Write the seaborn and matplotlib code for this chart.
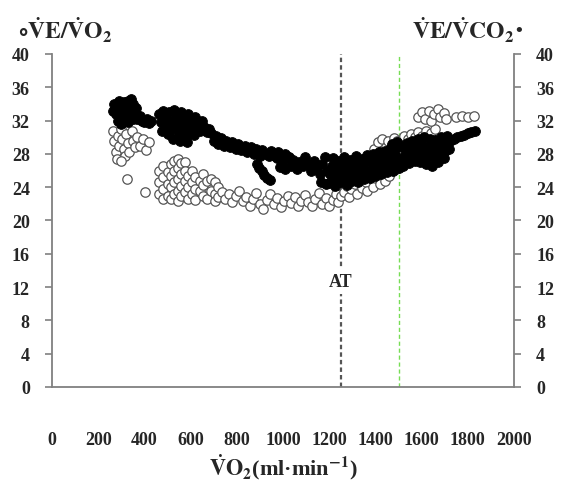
import numpy as np
import pandas as pd
import matplotlib
matplotlib.use('Agg')
import matplotlib.pyplot as plt
import seaborn as sns

sns.set_style('white')
plt.rcParams['font.family'] = ['Liberation Serif', 'DejaVu Serif']
plt.rcParams['font.weight'] = 'bold'
plt.rcParams['mathtext.fontset'] = 'stix'

# VE/VO2 (open circles)
vo2_open = [265, 270, 275, 280, 285, 290, 300, 305, 310, 315, 320, 330, 335, 345, 350,
            360, 370, 380, 395, 405, 420, 300, 325, 403,
            465, 465, 465, 480, 480, 480, 480, 500, 500, 500, 515, 515, 515, 515,
            530, 530, 530, 530, 545, 545, 545, 545, 545, 560, 560, 560, 560,
            575, 575, 575, 575, 590, 590, 590, 605, 605, 605, 620, 620, 620,
            640, 640, 655, 655, 655, 670, 670, 690, 690, 705, 705, 705, 720, 720, 735,
            750, 765, 780, 795, 810, 825, 840, 855, 870, 885, 900, 915, 930, 945, 960,
            975, 990, 1005, 1020, 1035, 1050, 1065, 1080, 1095, 1110, 1125, 1140, 1155,
            1170, 1185, 1200, 1215, 1230, 1240, 1250,
            1265, 1275, 1285, 1295, 1300, 1310, 1320, 1325, 1335, 1340, 1345, 1355, 1360,
            1365, 1370, 1380, 1385, 1390, 1395, 1400, 1410, 1415, 1420, 1425, 1430, 1440,
            1445, 1455, 1460, 1470, 1480, 1490, 1495,
            1510, 1525, 1540, 1555, 1570, 1585, 1600, 1620, 1640, 1660,
            1585, 1600, 1615, 1630, 1640, 1655, 1670, 1680, 1695, 1705,
            1750, 1775, 1800, 1825]
ve_vo2 = [30.8, 29.5, 28.2, 27.4, 30.2, 29.0, 31.0, 29.8, 28.6, 27.7, 30.4, 29.3, 28.2, 30.8, 29.6,
          28.8, 30.0, 29.0, 29.8, 28.5, 29.4, 27.2, 25.0, 23.4,
          26.0, 24.6, 23.2, 26.6, 25.2, 23.8, 22.6, 25.8, 24.4, 23.0, 26.8, 25.4, 24.0, 22.6,
          27.2, 26.0, 24.6, 23.2, 27.4, 26.3, 25.0, 23.6, 22.4, 26.9, 25.6, 24.2, 22.9,
          27.0, 26.0, 24.8, 23.4, 25.4, 24.0, 22.6, 26.0, 24.6, 23.2, 25.2, 23.8, 22.5,
          24.8, 23.6, 25.6, 24.3, 23.0, 24.8, 22.6, 25.0, 23.6, 24.6, 23.2, 22.4, 24.0, 22.8, 23.4,
          22.6, 23.2, 22.2, 22.9, 23.5, 22.3, 22.8, 21.8, 22.6, 23.3, 22.0, 21.4, 22.5, 23.2, 22.0,
          22.7, 21.6, 22.3, 23.0, 22.1, 22.8, 21.7, 22.4, 23.1, 22.2, 21.7, 22.6, 23.3,
          22.0, 22.7, 21.8, 22.5, 23.2, 22.2, 23.0,
          23.4, 24.2, 22.8, 23.8, 25.0, 24.4, 23.2, 26.0, 25.2, 23.9, 27.0, 26.2, 24.6,
          23.6, 27.8, 26.8, 25.0, 24.0, 28.6, 27.4, 29.4, 25.6, 24.4, 28.2, 29.8, 24.8,
          28.8, 29.6, 25.4, 29.0, 29.9, 26.2, 29.5,
          29.6, 30.2, 29.8, 30.4, 30.0, 30.6, 30.2, 30.8, 30.5, 31.0,
          32.4, 33.0, 32.2, 33.2, 32.0, 32.8, 33.4, 32.4, 32.9, 32.2,
          32.4, 32.5, 32.4, 32.5]

# VE/VCO2 (filled circles)
vo2_fill = [270, 280, 275, 290, 295, 300, 305, 310, 315, 320, 325, 330, 335, 340, 345,
            350, 355, 360, 365, 285, 300, 330, 370, 380, 390, 400, 410, 420, 430, 265,
            340, 315, 350,
            465, 470, 475, 480, 490, 495, 500, 505, 515, 520, 525, 530, 540, 545, 550,
            555, 560, 570, 575, 580, 585, 590, 600, 610, 615, 620, 630, 640, 650, 660,
            670, 680,
            690, 700, 710, 720, 730, 745, 755, 770, 780, 795, 805, 820, 835, 845, 860,
            875, 885, 900, 910, 925, 940, 950, 965, 980, 995, 1010, 1025,
            888, 898, 908, 918, 930, 942,
            975, 985, 1000, 1010, 1020, 1035, 1045, 1060, 1070, 1085, 1095, 1110, 1120,
            1135, 1145, 1160, 1170, 1180, 1190, 1165, 1185,
            1200, 1205, 1210, 1215, 1225, 1230, 1235, 1240, 1250, 1255, 1260, 1265,
            1275, 1280, 1285, 1290, 1300, 1305, 1310, 1315, 1325, 1330, 1335, 1340,
            1350, 1355, 1360, 1365, 1375, 1380, 1385, 1390, 1400, 1405, 1410, 1415,
            1425, 1430, 1435, 1440, 1450, 1455, 1460, 1465, 1475, 1480, 1485, 1490,
            1500, 1505, 1470, 1495, 1510,
            1520, 1525, 1530, 1535, 1545, 1550, 1555, 1560, 1570, 1575, 1580, 1585,
            1595, 1600, 1605, 1610, 1620, 1625, 1630, 1635, 1645, 1650, 1655, 1660,
            1670, 1675, 1680, 1685, 1695, 1700, 1705, 1710, 1720, 1725,
            1740, 1755, 1770, 1785, 1800, 1815, 1830]
ve_vco2 = [34.0, 33.5, 32.8, 34.3, 33.0, 32.3, 33.8, 34.2, 33.2, 32.6, 33.9, 34.4, 33.4, 32.5, 33.8,
           34.0, 33.0, 32.4, 33.5, 32.0, 31.6, 31.8, 32.2, 32.6, 32.0, 31.8, 32.2, 31.7, 32.0, 33.2,
           34.6, 31.9, 32.2,
           32.8, 31.8, 30.8, 33.2, 32.3, 31.2, 30.4, 33.0, 32.0, 31.0, 29.8, 33.3, 32.5, 31.5, 30.5,
           29.5, 33.0, 32.0, 31.0, 30.2, 29.4, 32.8, 31.8, 31.0, 30.3, 32.4, 31.6, 30.8, 32.0, 31.2,
           30.6, 31.0,
           30.5, 29.6, 30.2, 29.2, 29.9, 29.0, 29.6, 28.8, 29.4, 28.6, 29.2, 28.5, 29.0, 28.2, 28.8,
           28.0, 28.6, 27.8, 28.5, 28.0, 27.7, 28.4, 27.8, 28.2, 27.6, 28.0, 27.6,
           26.8, 26.3, 25.9, 25.5, 25.1, 24.9,
           27.5, 26.4, 27.2, 26.2, 27.6, 26.6, 27.3, 26.2, 27.0, 26.5, 27.6, 26.8, 26.0,
           27.2, 26.3, 25.6, 26.8, 27.6, 25.9, 24.6, 24.4,
           24.5, 25.6, 26.6, 27.5, 24.2, 25.2, 26.2, 27.2, 24.6, 25.6, 26.6, 27.6,
           24.3, 25.3, 26.3, 27.3, 24.8, 25.8, 26.8, 27.8, 24.6, 25.5, 26.5, 27.4,
           25.0, 26.0, 27.0, 27.9, 25.1, 26.1, 27.1, 28.0, 25.4, 26.4, 27.3, 28.2,
           25.6, 26.5, 27.5, 28.4, 25.8, 26.8, 27.8, 28.6, 26.0, 27.0, 28.0, 28.8,
           26.3, 27.3, 29.2, 29.4, 29.0,
           26.6, 27.6, 28.5, 29.3, 26.9, 27.9, 28.8, 29.6, 27.1, 28.1, 29.0, 29.8,
           27.0, 28.0, 29.0, 30.0, 26.8, 27.8, 28.8, 29.8, 26.6, 27.6, 28.6, 29.7,
           27.0, 28.0, 29.0, 30.0, 27.5, 28.4, 29.3, 30.2, 28.6, 29.6,
           29.8, 30.0, 30.2, 30.3, 30.5, 30.6, 30.8]

x_ticks = list(range(0, 2001, 200))
y_ticks = list(range(0, 41, 4))
at_vo2 = 1250
green_vo2 = 1500

df_open = pd.DataFrame({'vo2': vo2_open, 've': ve_vo2})
df_fill = pd.DataFrame({'vo2': vo2_fill, 've': ve_vco2})

fig = plt.figure(figsize=(5.62, 4.85), dpi=100)
ax = fig.add_axes([52 / 562, 1 - 388 / 485, 462 / 562, 333 / 485])

sns.scatterplot(data=df_open, x='vo2', y='ve', ax=ax, marker='o', s=46,
                facecolor='white', edgecolor='#555555', linewidth=0.9, zorder=3)
sns.scatterplot(data=df_fill, x='vo2', y='ve', ax=ax, marker='o', s=50,
                color='black', edgecolor='black', linewidth=0.6, zorder=4)

ax.axvline(at_vo2, color='#555555', lw=1.6, ls=(0, (2, 1.4)), zorder=2)
ax.axvline(green_vo2, color='#77dd55', lw=1.0, ls=(0, (3, 2)), zorder=2)
ax.text(at_vo2, 12.7, 'AT', ha='center', va='center', fontsize=13, fontweight='bold',
        bbox=dict(facecolor='white', edgecolor='none', pad=3), zorder=5)

ax.set_xlim(0, 2000)
ax.set_ylim(0, 40)
ax.set_xticks(x_ticks)
ax.set_yticks(y_ticks)
ax.set_xlabel('$\\mathbf{\\dot{V}O_2}$(ml\u00b7min$^{\\mathbf{-1}}$)', fontsize=16,
              fontweight='bold', labelpad=2)
ax.set_ylabel('')

for s in ['left', 'right', 'bottom']:
    ax.spines[s].set_color('#808080')
    ax.spines[s].set_linewidth(1.3)
ax.spines['top'].set_visible(False)

ax.tick_params(axis='x', direction='out', length=4, width=1.2, color='#808080',
               pad=28, labelsize=13)
ax.tick_params(axis='y', direction='out', length=5, width=1.2, color='#808080',
               pad=11, labelsize=13, left=True)

ax2 = ax.twinx()
ax2.set_ylim(0, 40)
ax2.set_yticks(y_ticks)
for s in ['left', 'right', 'bottom', 'top']:
    ax2.spines[s].set_visible(False)
ax2.tick_params(axis='y', direction='out', length=5, width=1.2, color='#808080',
                pad=11, labelsize=13, right=True)

for lab in ax.get_xticklabels() + ax.get_yticklabels() + ax2.get_yticklabels():
    lab.set_fontweight('bold')

# series titles above the two y axes
fig.text(18 / 562, 1 - 30 / 485, r'$\circ\mathbf{\dot{V}E/\dot{V}O_2}$', fontsize=17,
         ha='left', va='center')
fig.text(514 / 562, 1 - 30 / 485, r'$\mathbf{\dot{V}E/\dot{V}CO_2}$', fontsize=17,
         ha='right', va='center')
fig.text(515 / 562, 1 - 32 / 485, '\u2022', fontsize=14, ha='left', va='center')

fig.savefig('out.png', dpi=100)
